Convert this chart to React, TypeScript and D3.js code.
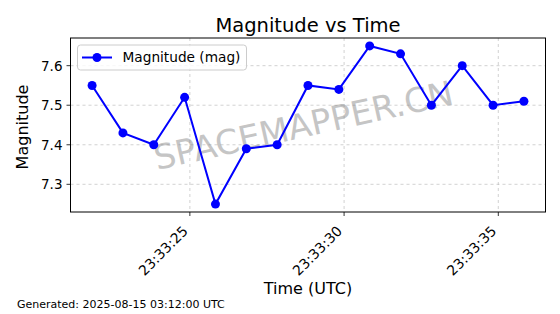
import React from "react";
import * as d3 from "d3";

const times = [
  "23:33:21.83", "23:33:22.83", "23:33:23.83", "23:33:24.83", "23:33:25.83",
  "23:33:26.83", "23:33:27.83", "23:33:28.83", "23:33:29.83", "23:33:30.83",
  "23:33:31.83", "23:33:32.83", "23:33:33.83", "23:33:34.83", "23:33:35.83",
];
const magnitudes = [7.55, 7.43, 7.40, 7.52, 7.25, 7.39, 7.40, 7.55, 7.54, 7.65, 7.63, 7.50, 7.60, 7.50, 7.51];
const xTickLabels = ["23:33:25", "23:33:30", "23:33:35"];
const yTicks = [7.3, 7.4, 7.5, 7.6];

const W = 560, H = 314;
const L = 70.5, R = 545.5, T = 38, B = 212;
const FONT = "DejaVu Sans, sans-serif";

function toSec(s: string) {
  const [h, m, sec] = s.split(":");
  return +h * 3600 + +m * 60 + +sec;
}

export default function App() {
  const xs = times.map(toSec);
  const xmin = d3.min(xs)!, xmax = d3.max(xs)!;
  const xpad = (xmax - xmin) * 0.05;
  const ymin = d3.min(magnitudes)!, ymax = d3.max(magnitudes)!;
  const ypad = (ymax - ymin) * 0.05;
  const x = d3.scaleLinear().domain([xmin - xpad, xmax + xpad]).range([L, R]);
  const y = d3.scaleLinear().domain([ymin - ypad, ymax + ypad]).range([B, T]);
  const pts = xs.map((v, i) => [x(v), y(magnitudes[i])] as [number, number]);
  const line = d3.line()(pts) || "";
  const xt = xTickLabels.map((t) => ({ t, px: x(toSec(t)) }));
  const color = "#0000ff";

  return (
    <svg width={W} height={H} style={{ position: "absolute", left: 0, top: 0 }} fontFamily={FONT}>
      <rect width={W} height={H} fill="#fff" />
      {/* grid */}
      {xt.map((d) => (
        <line key={d.t} x1={d.px} x2={d.px} y1={T} y2={B} stroke="#b0b0b0" strokeWidth={0.8} strokeDasharray="3,3" opacity={0.7} />
      ))}
      {yTicks.map((v) => (
        <line key={v} x1={L} x2={R} y1={y(v)} y2={y(v)} stroke="#b0b0b0" strokeWidth={0.8} strokeDasharray="3,3" opacity={0.7} />
      ))}
      {/* watermark */}
      <text x={306} y={137} textAnchor="middle" fontSize={34} fill="#808080" opacity={0.45}
        transform="rotate(-12.5 306 137)">SPACEMAPPER.CN</text>
      {/* data */}
      <path d={line} fill="none" stroke={color} strokeWidth={2} />
      {pts.map((p, i) => (
        <circle key={i} cx={p[0]} cy={p[1]} r={4.5} fill={color} />
      ))}
      {/* axes frame */}
      <rect x={L} y={T} width={R - L} height={B - T} fill="none" stroke="#000" strokeWidth={1} />
      {/* y ticks */}
      {yTicks.map((v) => (
        <g key={v}>
          <line x1={L - 4} x2={L} y1={y(v)} y2={y(v)} stroke="#000" strokeWidth={0.8} />
          <text x={L - 8} y={y(v)} dy="0.36em" textAnchor="end" fontSize={13.5}>{v.toFixed(1)}</text>
        </g>
      ))}
      {/* x ticks */}
      {xt.map((d) => (
        <g key={d.t}>
          <line x1={d.px} x2={d.px} y1={B} y2={B + 4} stroke="#000" strokeWidth={0.8} />
          <text x={d.px - 1} y={B + 20} textAnchor="end" fontSize={14} transform={`rotate(-45 ${d.px - 1} ${B + 20})`}>{d.t}</text>
        </g>
      ))}
      {/* labels */}
      <text x={(L + R) / 2} y={32} textAnchor="middle" fontSize={19.5}>Magnitude vs Time</text>
      <text x={(L + R) / 2} y={294} textAnchor="middle" fontSize={16}>Time (UTC)</text>
      <text transform={`translate(28 ${(T + B) / 2 + 2}) rotate(-90)`} textAnchor="middle" fontSize={16}>Magnitude</text>
      {/* legend */}
      <rect x={77.5} y={45} width={169} height={25} rx={3} fill="#fff" fillOpacity={0.8} stroke="#cccccc" strokeWidth={1} />
      <line x1={82} x2={112} y1={57.5} y2={57.5} stroke={color} strokeWidth={2} />
      <circle cx={97} cy={57.5} r={4.5} fill={color} />
      <text x={122.5} y={57.5} dy="0.34em" fontSize={13.7}>Magnitude (mag)</text>
      {/* footer */}
      <text x={17} y={308} fontSize={11}>Generated: 2025-08-15 03:12:00 UTC</text>
    </svg>
  );
}
